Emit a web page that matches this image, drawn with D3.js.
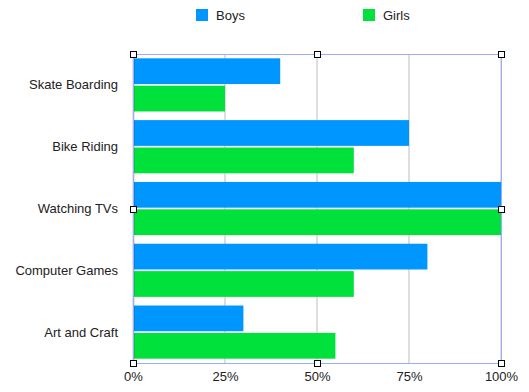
<!DOCTYPE html>
<html lang="en">
<head>
<meta charset="utf-8">
<title>Hobbies</title>
<script src="https://d3js.org/d3.v7.min.js"></script>
<style>
  body { margin: 0; background: #fff; }
  text { font-family: "Liberation Sans", Arial, sans-serif; font-size: 13px; fill: #222; }
</style>
</head>
<body>
<div id="chart"></div>
<script>
const categories = ["Skate Boarding", "Bike Riding", "Watching TVs", "Computer Games", "Art and Craft"];
const boys = [0.40, 0.75, 1.00, 0.80, 0.30];
const girls = [0.25, 0.60, 1.00, 0.60, 0.55];
const tickValues = [0, 0.25, 0.5, 0.75, 1];
const seriesNames = ["Boys", "Girls"];
const colors = ["#0096ff", "#00e13c"];

const width = 529, height = 392;
const marginLeft = 133, marginRight = 28, marginTop = 54, marginBottom = 29;
const x0 = marginLeft, x1 = width - marginRight, y0 = marginTop, y1 = height - marginBottom;

const svg = d3.select("#chart").append("svg")
  .attr("width", width).attr("height", height);

const x = d3.scaleLinear().domain([0, 1]).range([x0, x1]);
const y = d3.scaleBand().domain(categories).range([y0, y1]).paddingInner(0.14).paddingOuter(0.07);
const sub = d3.scaleBand().domain(seriesNames).range([0, y.bandwidth()]).paddingInner(0.06);

// gridlines
svg.append("g").selectAll("line")
  .data(tickValues.slice(1))
  .join("line")
  .attr("x1", d => x(d)).attr("x2", d => x(d))
  .attr("y1", y0).attr("y2", y1)
  .attr("stroke", "#bdbdbd").attr("stroke-width", 1);

// bars
const rows = categories.map((c, i) => ({ c, vals: [boys[i], girls[i]] }));
svg.append("g").selectAll("g")
  .data(rows)
  .join("g")
  .attr("transform", d => `translate(0,${y(d.c)})`)
  .selectAll("rect")
  .data(d => d.vals.map((v, j) => ({ v, s: seriesNames[j], j })))
  .join("rect")
  .attr("x", x(0) + 1)
  .attr("y", d => sub(d.s))
  .attr("width", d => x(d.v) - x(0) - 1)
  .attr("height", sub.bandwidth())
  .attr("fill", d => colors[d.j]);

// category labels
svg.append("g").selectAll("text")
  .data(categories)
  .join("text")
  .attr("x", 118)
  .attr("y", d => y(d) + y.bandwidth() / 2)
  .attr("dy", "0.35em")
  .attr("text-anchor", "end")
  .text(d => d);

// left axis line
svg.append("line")
  .attr("x1", x0 + 0.5).attr("x2", x0 + 0.5)
  .attr("y1", y0).attr("y2", y1)
  .attr("stroke", "#000").attr("stroke-width", 1.2);

// x axis labels
const xAxis = d3.axisBottom(x).tickValues(tickValues).tickFormat(d3.format(".0%")).tickSize(0).tickPadding(9);
const gx = svg.append("g").attr("transform", `translate(0,${y1})`).call(xAxis);
gx.select(".domain").remove();
gx.selectAll("text").style("font-family", "Liberation Sans, Arial, sans-serif").style("font-size", "13px").attr("fill", "#222");

// selection frame
svg.append("rect")
  .attr("x", x0 + 0.5).attr("y", y0 + 0.5)
  .attr("width", x1 - x0).attr("height", y1 - y0)
  .attr("fill", "none").attr("stroke", "#9eabff").attr("stroke-width", 1);

const handles = [];
[x0, (x0 + x1) / 2, x1].forEach(hx => [y0, (y0 + y1) / 2, y1].forEach(hy => {
  if (!(hx === (x0 + x1) / 2 && hy === (y0 + y1) / 2)) handles.push([hx, hy]);
}));
svg.append("g").selectAll("rect")
  .data(handles)
  .join("rect")
  .attr("x", d => Math.round(d[0]) - 3 + 0.5)
  .attr("y", d => Math.round(d[1]) - 3 + 0.5)
  .attr("width", 6).attr("height", 6)
  .attr("fill", "#fff").attr("stroke", "#000").attr("stroke-width", 1);

// legend
const legendX = [196, 363];
const legend = svg.append("g").selectAll("g")
  .data(seriesNames)
  .join("g")
  .attr("transform", (d, i) => `translate(${legendX[i]},9)`);
legend.append("rect").attr("width", 12).attr("height", 12).attr("fill", (d, i) => colors[i]);
legend.append("text").attr("x", 20).attr("y", 6).attr("dy", "0.35em").text(d => d);
</script>
</body>
</html>
